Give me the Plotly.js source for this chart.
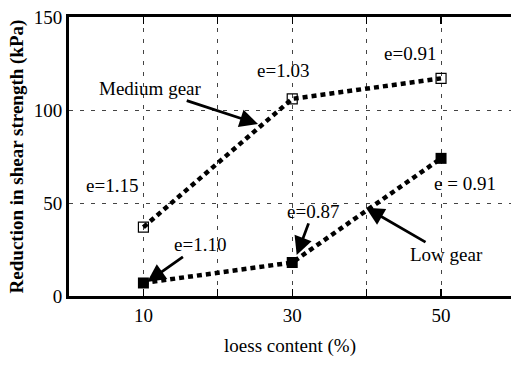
<!DOCTYPE html>
<html>
<head>
<meta charset="utf-8">
<script src="https://cdn.plot.ly/plotly-3.0.1.min.js"></script>
<style>
  html, body { margin: 0; padding: 0; background: #fff; overflow: hidden; }
  #chart { width: 511px; height: 367px; }
</style>
</head>
<body>
<div id="chart"></div>
<script>
// Loess content (%) on the x axis
const loessContent = [10, 30, 50];
// Reduction in shear strength (kPa) for each gear load
const mediumGear = [37, 106, 117];
const lowGear = [7, 18, 74];
// Void ratio labels beside each point
const mediumVoid = ["e=1.15", "e=1.03", "e=0.91"];
const lowVoid = ["e=1.10", "e=0.87", "e = 0.91"];
// Axis ticks
const xTickVals = [10, 20, 30, 40, 50];
const xTickText = ["10", "", "30", "", "50"];
const yTickVals = [0, 50, 100, 150];

const serif = "Liberation Serif, Times New Roman, serif";
const lineStyle = { color: "#000", width: 4.5, dash: "5px,4px" };

const traces = [
  {
    x: loessContent, y: mediumGear, name: "Medium gear",
    mode: "lines+markers", line: lineStyle,
    marker: { symbol: "square-open", size: 10, color: "#000", line: { width: 1.2 } },
    cliponaxis: false
  },
  {
    x: loessContent, y: lowGear, name: "Low gear",
    mode: "lines+markers", line: lineStyle,
    marker: { symbol: "square", size: 11, color: "#000" },
    cliponaxis: false
  }
];

const txtFont = { family: serif, size: 19, color: "#000" };

function label(x, y, text) {
  return { x: x, y: y, xref: "x", yref: "y", text: text, showarrow: false, font: txtFont };
}
function pointer(x, y, tx, ty, text) {
  return {
    x: x, y: y, xref: "x", yref: "y", axref: "x", ayref: "y", ax: tx, ay: ty,
    text: text, showarrow: true, arrowhead: 2, arrowsize: 1.3, arrowwidth: 2.8,
    arrowcolor: "#000", standoff: 0, startstandoff: 0, font: txtFont
  };
}

const annotations = [
  pointer(25.4, 92.5, 10.9, 111.5, "Medium gear"),
  label(28.7, 121, mediumVoid[1]),
  label(45.8, 130.5, mediumVoid[2]),
  label(5.8, 59.5, mediumVoid[0]),
  pointer(10.5, 7.5, 17.6, 27.5, lowVoid[0]),
  pointer(30.6, 22, 32.8, 45.5, lowVoid[1]),
  pointer(39.9, 47.5, 50.7, 22.5, "Low gear"),
  label(53.2, 60.5, lowVoid[2])
];

const layout = {
  width: 511, height: 367,
  margin: { l: 69, r: 0, t: 17, b: 71 },
  paper_bgcolor: "#fff", plot_bgcolor: "#fff",
  showlegend: false,
  xaxis: {
    range: [0, 59.4], tickvals: xTickVals, ticktext: xTickText,
    ticks: "inside", ticklen: 7, tickwidth: 1.3, tickcolor: "#000",
    showline: true, linewidth: 3, linecolor: "#000", mirror: "ticks",
    showgrid: true, gridcolor: "#444", gridwidth: 1, griddash: "4px,7px",
    zeroline: false,
    tickfont: { family: serif, size: 19, color: "#000" },
    title: { text: "loess content (%)", font: { family: serif, size: 19, color: "#000" }, standoff: 14 }
  },
  yaxis: {
    range: [0, 150], tickvals: yTickVals,
    ticks: "", showline: true, linewidth: 3, linecolor: "#000",
    showgrid: true, gridcolor: "#444", gridwidth: 1, griddash: "4px,7px",
    zeroline: false,
    tickfont: { family: serif, size: 19, color: "#000" },
    title: { text: "<b>Reduction in shear strength (kPa)</b>", font: { family: serif, size: 19, color: "#000" }, standoff: 6 }
  },
  annotations: annotations
};

Plotly.newPlot("chart", traces, layout, { displayModeBar: false, staticPlot: true });
</script>
</body>
</html>
